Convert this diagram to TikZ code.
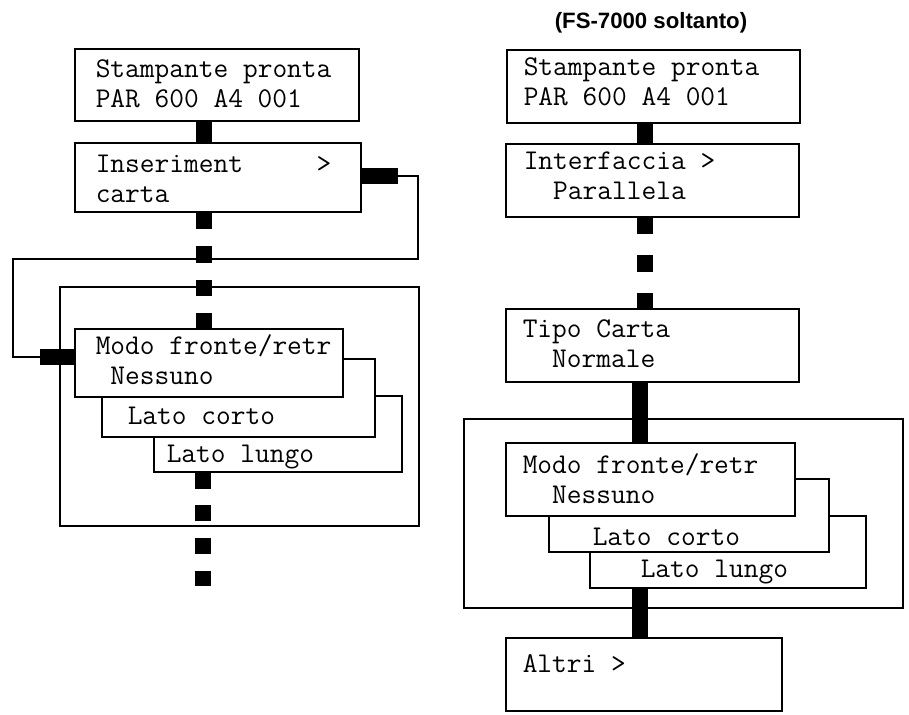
\documentclass[tikz,border=0pt]{standalone}
\usepackage{fontspec}
\newfontfamily\headfont{Liberation Sans}
\usetikzlibrary{positioning, fit}

\begin{document}
\begin{tikzpicture}[x=0.5pt, y=-0.5pt,
  every node/.style={font=\ttfamily\fontsize{14.3}{15}\selectfont},
  lcd/.style={draw, line width=0.65pt, fill=white, inner sep=0pt},
  outer/.style={draw, line width=0.65pt, inner sep=0pt},
  txt/.style={anchor=base west, align=left, inner sep=0pt},
  wire/.style={line width=0.65pt},
  thickbar/.style={line width=8pt}]
\useasboundingbox (0,0) rectangle (909,714);
% left column: duplex via paper feed menu
\node[outer, fit={(60,287) (419,526)}] (outerL) {};
\node[lcd, fit={(75,49) (359,121)}] (l1) {};
\node[lcd, fit={(75,143) (361,212)}] (l2) {};
\node[lcd, fit={(154,396) (402,472)}] (lungoL) {};
\node[lcd, fit={(102,359) (375,437)}] (cortoL) {};
\node[lcd, fit={(75,329) (343,397)}] (modoL) {};
% (base of a two-line text = its last line)
\node[txt] (l1t) at ([shift={(21,59)}]l1.north west) {Stampante pronta\\PAR 600 A4 001};
\node[txt] (l2t) at ([shift={(21,60)}]l2.north west) {Inseriment~~~~~>\\carta};
\node[txt] (modoLt) at ([shift={(21,56)}]modoL.north west) {Modo fronte/retr\\~Nessuno};
\node[txt] (cortoLt) at ([shift={(26,66)}]cortoL.north west) {Lato corto};
\node[txt] (lungoLt) at ([shift={(13,67)}]lungoL.north west) {Lato lungo};
% loop from the submenu back to duplex
\coordinate (stubR) at (398,176);
\coordinate (loopR) at (418,259);
\coordinate (loopL) at (13,357);
\coordinate (stubL) at (40,357);
\draw[wire] (stubR) -| (loopR) -| (loopL) -- (stubL);
\draw[thickbar] (l2.east |- stubR) -- (stubR);
\draw[thickbar] (stubL) -- (modoL.west |- stubL);
\coordinate (axL) at (204,0);
\coordinate (endL) at (203,586);
\draw[thickbar] (axL |- l1.south) -- (axL |- l2.north);
\draw[thickbar, dash pattern=on 8.25pt off 8.5pt] (axL |- l2.south) -- (axL |- modoL.north);
\draw[thickbar, dash pattern=on 8pt off 8.33pt] (endL |- lungoL.south) -- (endL);
% right column: FS-7000 only
\node[font=\headfont\bfseries\fontsize{11.1}{13}\selectfont, anchor=base] (title) at (651,28) {(FS-7000 soltanto)};
\node[outer, fit={(464,419) (903,608)}] (outerR) {};
\node[lcd, fit={(507,50) (800,123)}] (r1) {};
\node[lcd, fit={(506,144) (799,217)}] (r2) {};
\node[lcd, fit={(506,309) (799,382)}] (tipo) {};
\node[lcd, fit={(590,516) (866,588)}] (lungoR) {};
\node[lcd, fit={(549,479) (829,552)}] (cortoR) {};
\node[lcd, fit={(506,443) (795,516)}] (modoR) {};
\node[lcd, fit={(506,638) (782,711)}] (altri) {};
\node[txt] (r1t) at ([shift={(17,56)}]r1.north west) {Stampante pronta\\PAR 600 A4 001};
\node[txt] (r2t) at ([shift={(18,56)}]r2.north west) {Interfaccia >\\~~Parallela};
\node[txt] (tipot) at ([shift={(17,59)}]tipo.north west) {Tipo Carta\\~~Normale};
\node[txt] (modoRt) at ([shift={(17,61)}]modoR.north west) {Modo fronte/retr\\~~Nessuno};
\node[txt] (cortoRt) at ([shift={(44,67)}]cortoR.north west) {Lato corto};
\node[txt] (lungoRt) at ([shift={(51,62)}]lungoR.north west) {Lato lungo};
\node[txt] (altrit) at ([shift={(17,35)}]altri.north west) {Altri >};
\coordinate (axR) at (645,0);
\coordinate (axR2) at (640,0);
\draw[thickbar] (axR |- r1.south) -- (axR |- r2.north);
\draw[thickbar, dash pattern=on 8.25pt off 10.6pt] (axR |- r2.south) -- (axR |- tipo.north);
\draw[thickbar] (axR2 |- tipo.south) -- (axR2 |- modoR.north);
\draw[thickbar] (axR2 |- lungoR.south) -- (axR2 |- altri.north);
\end{tikzpicture}
\end{document}
